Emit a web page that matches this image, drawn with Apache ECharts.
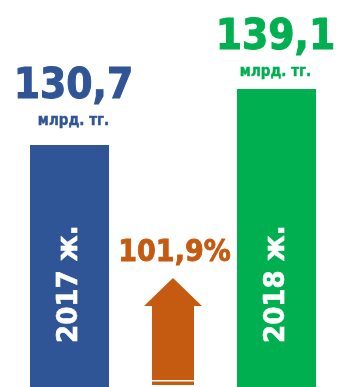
<!DOCTYPE html>
<html>
<head>
<meta charset="utf-8">
<script src="https://cdn.jsdelivr.net/npm/echarts@6/dist/echarts.min.js"></script>
<style>
  html, body { margin: 0; padding: 0; background: #ffffff; }
  #chart { width: 337px; height: 387px; }
</style>
</head>
<body>
<div id="chart"></div>
<script>
// Revenue by year, billions of tenge
const categories = ['2017 ж.', '', '2018 ж.'];
const values = [130.7, null, 139.1];
const barColors = ['#2F5597', '#C55A11', '#00B050'];
const unitLabel = 'млрд. тг.';
const growthLabel = '101,9%';

const FONT = "'DejaVu Sans Condensed', 'DejaVu Sans', sans-serif";

// per-bar placement of the value labels above the bars
const labelDistance = [13, 0, 6];
const labelShiftX = [4, 0, -1];

const chart = echarts.init(document.getElementById('chart'));

const fmt = v => String(v).replace('.', ',');

chart.setOption({
  animation: false,
  grid: { left: 17.75, right: 8.75, top: 0, bottom: 0, containLabel: false },
  xAxis: {
    type: 'category',
    data: categories,
    z: 10,
    axisLine: { show: false },
    axisTick: { show: false },
    axisLabel: {
      inside: true,
      rotate: 90,
      margin: 44,
      color: '#ffffff',
      fontFamily: FONT,
      fontWeight: 'bold',
      fontSize: 29,
      textBorderColor: '#ffffff',
      textBorderWidth: 0.6
    }
  },
  yAxis: {
    type: 'value',
    min: 94.4,
    max: 152.45,
    show: false
  },
  series: [{
    type: 'bar',
    barWidth: 79,
    data: values.map((v, i) => ({
      value: v,
      itemStyle: { color: barColors[i] },
      label: {
        color: barColors[i],
        distance: labelDistance[i],
        offset: [labelShiftX[i], 0],
        rich: {
          v: { textBorderColor: barColors[i] },
          u: { textBorderColor: barColors[i] }
        }
      }
    })),
    label: {
      show: true,
      position: 'top',
      fontFamily: FONT,
      fontWeight: 'bold',
      formatter: p => '{v|' + fmt(p.value) + '}\n{u|' + unitLabel + '}',
      rich: {
        v: { fontFamily: FONT, fontWeight: 'bold', fontSize: 42, lineHeight: 46, textBorderWidth: 1 },
        u: { fontFamily: FONT, fontWeight: 'bold', fontSize: 15, lineHeight: 22, textBorderWidth: 0.4 }
      }
    }
  }]
});

// Growth arrow in the middle slot
function drawArrow() {
  const cx = chart.convertToPixel({ xAxisIndex: 0 }, 1);
  const tipY = 278, headY = 306, shaftBottom = 380;
  const headHalf = 29, shaftHalf = 21;
  const color = barColors[1];
  chart.setOption({
    graphic: [
      {
        type: 'polygon',
        shape: {
          points: [
            [cx, tipY],
            [cx + headHalf, headY],
            [cx + shaftHalf, headY],
            [cx + shaftHalf, shaftBottom],
            [cx - shaftHalf, shaftBottom],
            [cx - shaftHalf, headY],
            [cx - headHalf, headY]
          ]
        },
        style: { fill: color }
      },
      {
        type: 'rect',
        shape: { x: cx - shaftHalf, y: 381.5, width: shaftHalf * 2, height: 3.5 },
        style: { fill: color }
      },
      {
        type: 'text',
        style: {
          text: growthLabel,
          x: cx + 1.5,
          y: 253,
          align: 'center',
          verticalAlign: 'middle',
          fill: color,
          stroke: color,
          lineWidth: 0.8,
          font: 'bold 30px ' + FONT
        }
      }
    ]
  });
}
drawArrow();
</script>
</body>
</html>
